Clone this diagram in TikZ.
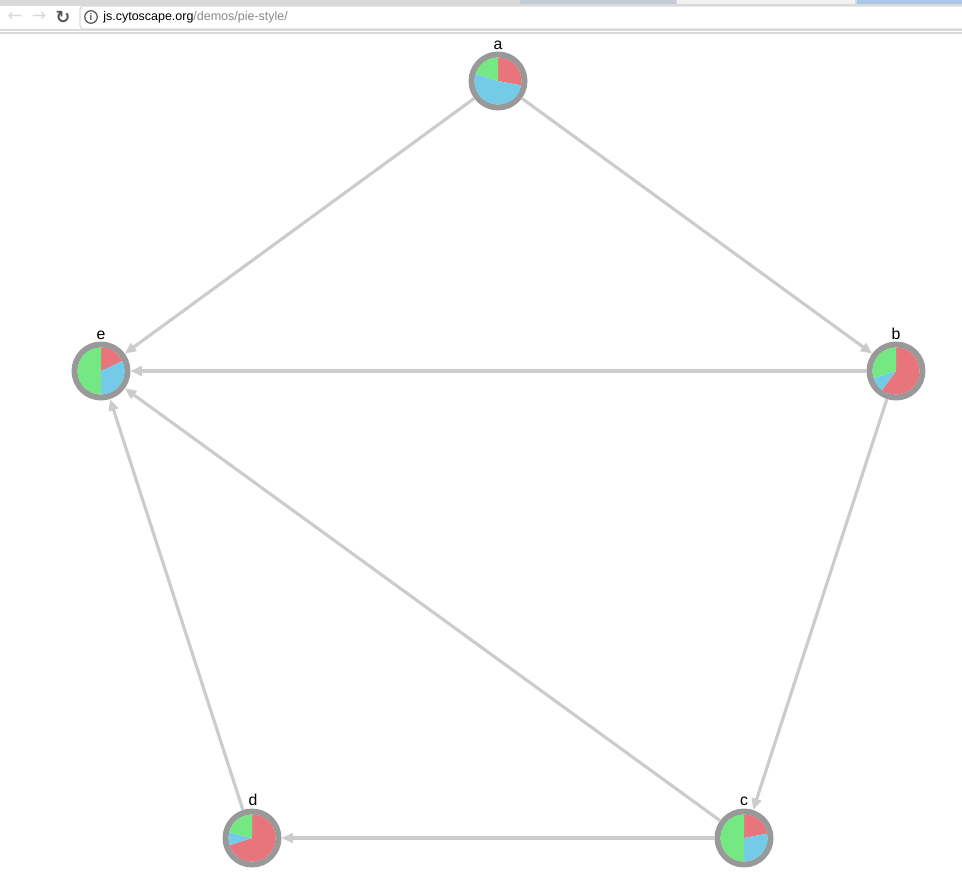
\documentclass[tikz,border=0pt]{standalone}
\usepackage{fontspec}
\setmainfont{Liberation Sans}
\newfontfamily\symfont{DejaVu Sans}
\usetikzlibrary{arrows.meta}

\definecolor{piered}{HTML}{E8747C}
\definecolor{pieblue}{HTML}{74CBE8}
\definecolor{piegreen}{HTML}{74E883}
\definecolor{ringgray}{HTML}{999999}
\definecolor{edgegray}{HTML}{CCCCCC}
\definecolor{bargray}{HTML}{D9D9D9}
\definecolor{tabgray}{HTML}{C3CCD6}
\definecolor{tablight}{HTML}{F1F1F1}
\definecolor{tabblue}{HTML}{A7C7EA}
\definecolor{urlgray}{HTML}{888888}
\definecolor{icongray}{HTML}{555555}

\tikzset{
  edge/.style={draw=edgegray, line width=1.8pt, -{Triangle[length=6.5pt, width=5.5pt]}},
}

\begin{document}
\begin{tikzpicture}[x=0.02cm, y=0.02cm]
    \useasboundingbox (0,0) rectangle (962,-879);

    % browser bar
    \fill[bargray] (0,0) rectangle (962,-5);
    \fill[tabgray] (520,0) rectangle (676,-4);
    \fill[tablight] (677,0) rectangle (855,-4);
    \fill[tabblue] (857,0) rectangle (962,-4);
    \draw[bargray, line width=0.6pt] (0,-5) -- (962,-5);
    \draw[bargray, rounded corners=2pt, line width=0.6pt] (80,-6) rectangle (975,-29);
    \draw[bargray, line width=0.8pt] (0,-30) -- (962,-30);
    \draw[bargray, line width=0.8pt] (0,-33) -- (962,-33);

    \begin{scope}[every node/.style={inner sep=0pt, font=\fontsize{10}{11}\symfont}]
      \node[text=bargray] (back) at (15,-17) {←};
      \node[text=bargray] (fwd) at (39,-17) {→};
      \node[text=icongray, font=\fontsize{10}{11}\symfont\bfseries] (reload) at (63,-17) {↻};
      \node[circle, draw=icongray, line width=0.7pt, minimum size=0.25cm, text=icongray,
            font=\fontsize{5.5}{5.5}\selectfont\bfseries] (info) at (91,-17) {i};
      \node[anchor=west, font=\fontsize{7.1}{8}\selectfont] (url) at (103,-17)
        {js.cytoscape.org\textcolor{urlgray}{/demos/pie-style/}};
    \end{scope}

    \begin{scope}[every node/.style={circle, draw=ringgray, line width=3.4pt,
        minimum size=1.06cm, inner sep=0pt, fill=white}]
      \node (a) at (498,-81) {};
      \node (b) at (896,-371) {};
      \node (c) at (744,-838) {};
      \node (d) at (252,-838) {};
      \node (e) at (101,-371) {};
    \end{scope}

    \begin{scope}[every node/.style={anchor=base, inner sep=0pt, font=\fontsize{9}{10}\selectfont}]
      \node (la) at (498,-49) {a};
      \node (lb) at (896,-339) {b};
      \node (lc) at (744,-805) {c};
      \node (ld) at (253,-805) {d};
      \node (le) at (101,-339) {e};
    \end{scope}

    % pie slices, clockwise from the top
    \fill[piered] (a.center) -- ++(90:23.5) arc[start angle=90, end angle=-10.8, radius=23.5] -- cycle;
    \fill[pieblue] (a.center) -- ++(-10.8:23.5) arc[start angle=-10.8, end angle=-198, radius=23.5] -- cycle;
    \fill[piegreen] (a.center) -- ++(-198:23.5) arc[start angle=-198, end angle=-270, radius=23.5] -- cycle;

    \fill[piered] (b.center) -- ++(90:23.5) arc[start angle=90, end angle=-126, radius=23.5] -- cycle;
    \fill[pieblue] (b.center) -- ++(-126:23.5) arc[start angle=-126, end angle=-162, radius=23.5] -- cycle;
    \fill[piegreen] (b.center) -- ++(-162:23.5) arc[start angle=-162, end angle=-270, radius=23.5] -- cycle;

    \fill[piered] (c.center) -- ++(90:23.5) arc[start angle=90, end angle=10.8, radius=23.5] -- cycle;
    \fill[pieblue] (c.center) -- ++(10.8:23.5) arc[start angle=10.8, end angle=-90, radius=23.5] -- cycle;
    \fill[piegreen] (c.center) -- ++(-90:23.5) arc[start angle=-90, end angle=-270, radius=23.5] -- cycle;

    \fill[piered] (d.center) -- ++(90:23.5) arc[start angle=90, end angle=-162, radius=23.5] -- cycle;
    \fill[pieblue] (d.center) -- ++(-162:23.5) arc[start angle=-162, end angle=-194.4, radius=23.5] -- cycle;
    \fill[piegreen] (d.center) -- ++(-194.4:23.5) arc[start angle=-194.4, end angle=-270, radius=23.5] -- cycle;

    \fill[piered] (e.center) -- ++(90:23.5) arc[start angle=90, end angle=25.2, radius=23.5] -- cycle;
    \fill[pieblue] (e.center) -- ++(25.2:23.5) arc[start angle=25.2, end angle=-90, radius=23.5] -- cycle;
    \fill[piegreen] (e.center) -- ++(-90:23.5) arc[start angle=-90, end angle=-270, radius=23.5] -- cycle;

    \draw[edge] (a) -- (e);
    \draw[edge] (a) -- (b);
    \draw[edge] (b) -- (e);
    \draw[edge] (b) -- (c);
    \draw[edge] (c) -- (e);
    \draw[edge] (c) -- (d);
    \draw[edge] (d) -- (e);

  \end{tikzpicture}
\end{document}
